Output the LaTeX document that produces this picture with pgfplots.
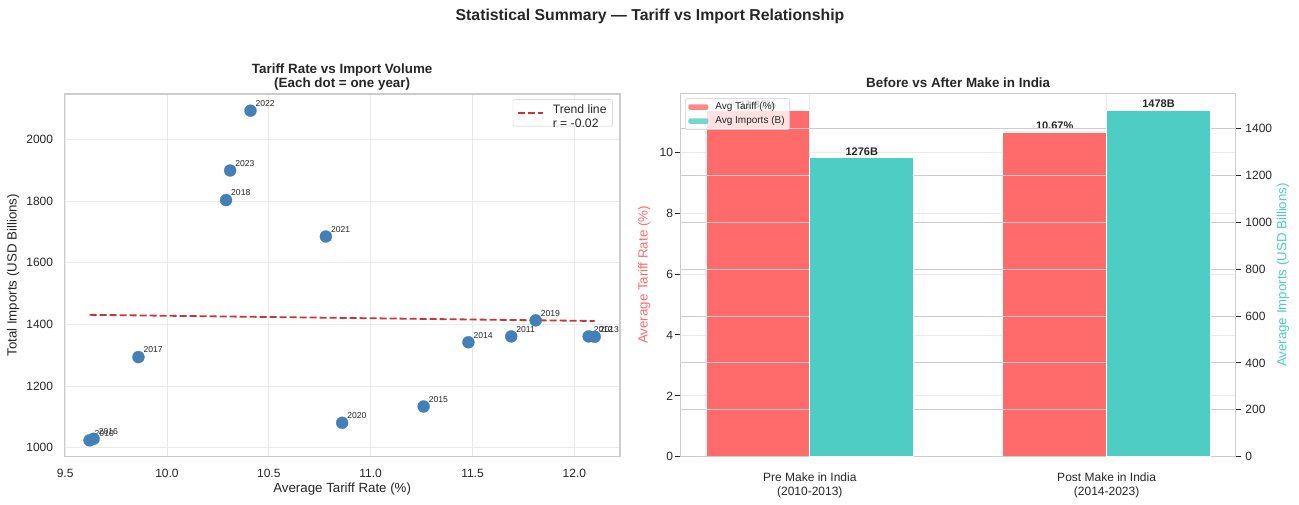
\documentclass[border=0pt]{standalone}
\usepackage{pgfplots}
\pgfplotsset{compat=1.18}
\usepackage{fontspec}
\setmainfont{Liberation Sans}
\definecolor{txt}{HTML}{262626}
\definecolor{spine}{HTML}{CCCCCC}
\definecolor{gridl}{HTML}{EBEBEB}
\definecolor{steel}{HTML}{4480B8}
\definecolor{tred}{HTML}{FF6B6B}
\definecolor{tteal}{HTML}{4ECDC4}
\definecolor{trend}{HTML}{CC3333}
\pgfplotsset{
  /pgf/number format/assume math mode=true,
  /pgf/number format/1000 sep={},
}
\pgfplotstableread{
x y year
9.62 1024 2010
11.69 1361 2011
12.07 1361 2012
12.10 1360 2013
11.48 1342 2014
11.26 1134 2015
9.64 1029 2016
9.86 1294 2017
10.29 1803 2018
11.81 1413 2019
10.86 1081 2020
10.78 1685 2021
10.41 2093 2022
10.31 1899 2023
}\scatterdata
\begin{document}
\begin{tikzpicture}[x=1pt,y=1pt]
\useasboundingbox (0,0) rectangle (1299,504);
\node[font=\fontsize{15.8}{19}\selectfont\bfseries, text=txt] at (650,488) {Statistical Summary — Tariff vs Import Relationship};
% ---------------- left: scatter ----------------
\begin{axis}[
  at={(64.3pt,47.3pt)}, anchor=south west, scale only axis,
  width=555.7pt, height=362.7pt,
  xmin=9.496, xmax=12.224, ymin=971, ymax=2147,
  xtick={9.5,10,10.5,11,11.5,12},
  xticklabels={9.5,10.0,10.5,11.0,11.5,12.0},
  ytick={1000,1200,1400,1600,1800,2000},
  major tick length=0pt,
  grid=major, major grid style={gridl, line width=0.8pt},
  axis line style={spine, line width=1.25pt},
  ticklabel style={font=\fontsize{12}{14}\selectfont, text=txt, inner sep=0pt},
  xticklabel shift=12pt, yticklabel shift=11pt,
  xlabel={Average Tariff Rate (\%)}, ylabel={Total Imports (USD Billions)},
  every axis x label/.style={at={(axis description cs:0.5,-0.088)}, anchor=center},
  every axis y label/.style={at={(axis description cs:-0.092,0.5)}, anchor=center, rotate=90},
  label style={font=\fontsize{13.3}{16}\selectfont, text=txt},
  title={Tariff Rate vs Import Volume\\(Each dot = one year)},
  title style={font=\fontsize{13.4}{14}\selectfont\bfseries, text=txt, align=center,
    at={(axis description cs:0.5,1)}, anchor=south, inner sep=0pt, yshift=-2pt},
  legend style={at={(axis description cs:0.987,0.985)}, anchor=north east,
    draw=spine, rounded corners=2pt, fill=white, fill opacity=0.8, text opacity=1,
    font=\fontsize{12.2}{14}\selectfont, text=txt, inner xsep=4pt, inner ysep=2pt,
    column sep=7pt, nodes={inner sep=2pt}},
  legend image code/.code={\draw[#1] (0pt,0pt) -- (25pt,0pt);},
]
\addplot[trend, line width=1.8pt, dash pattern=on 7pt off 3pt] coordinates {(9.62,1431) (12.10,1411)};
\addlegendentry{\begin{tabular}{@{}l@{}}Trend line\\r = -0.02\end{tabular}}
\addplot[only marks, color=steel, mark=*, mark size=6pt, mark options={fill=steel, draw=steel, line width=0.3pt},
  nodes near coords, point meta=explicit symbolic,
  every node near coord/.style={anchor=south west, inner sep=0pt, xshift=5pt, yshift=4pt,
    font=\fontsize{8.6}{10}\selectfont, text=txt}, forget plot]
  table[x=x, y=y, meta=year] {\scatterdata};
\end{axis}
% ---------------- right: bars (tariff) ----------------
\begin{axis}[
  at={(680.7pt,47.3pt)}, anchor=south west, scale only axis,
  width=555pt, height=363.4pt,
  xmin=-0.435, xmax=1.435, ymin=0, ymax=11.94,
  xtick={0,1},
  xticklabels={{Pre Make in India\\(2010-2013)},{Post Make in India\\(2014-2023)}},
  ytick={0,2,4,6,8,10},
  ytick pos=left,
  tick align=outside, major tick length=5.5pt,
  xtick style={draw=none},
  ytick style={txt, line width=1pt},
  ymajorgrids, major grid style={gridl, line width=0.8pt},
  axis line style={spine, line width=1.25pt},
  ticklabel style={font=\fontsize{12}{14}\selectfont, text=txt, inner sep=0pt},
  xticklabel style={align=center},
  xticklabel shift=10pt, yticklabel shift=2pt,
  ylabel={Average Tariff Rate (\%)},
  every axis y label/.style={at={(axis description cs:-0.066,0.5)}, anchor=center, rotate=90},
  label style={font=\fontsize{13.3}{16}\selectfont, text=tred},
  title={Before vs After Make in India},
  title style={font=\fontsize{13.4}{14}\selectfont\bfseries, text=txt,
    at={(axis description cs:0.5,1)}, anchor=south, inner sep=0pt, yshift=-0.5pt},
]
\addplot[ybar, bar width=0.35, bar shift=0pt, fill=tred, draw=white, line width=0.8pt,
  nodes near coords={\pgfmathprintnumber[fixed,precision=2,zerofill]{\pgfplotspointmeta}\%},
  point meta=y,
  every node near coord/.style={anchor=south, inner sep=2pt, font=\fontsize{11}{13}\selectfont\bfseries, text=txt}]
  coordinates {(-0.175,11.37) (0.825,10.67)};
\end{axis}
% ---------------- right: bars (imports, twin) ----------------
\begin{axis}[
  at={(680.7pt,47.3pt)}, anchor=south west, scale only axis,
  width=555pt, height=363.4pt,
  xmin=-0.435, xmax=1.435, ymin=0, ymax=1551,
  xtick={0,1}, xticklabels={},
  ytick={0,200,400,600,800,1000,1200,1400},
  ytick pos=right, yticklabel pos=right,
  tick align=outside, major tick length=5.5pt,
  xtick style={draw=none},
  ytick style={txt, line width=1pt},
  ymajorgrids, xmajorgrids,
  major y grid style={spine, line width=1pt},
  major x grid style={gridl, line width=0.8pt},
  axis line style={spine, line width=1.25pt},
  ticklabel style={font=\fontsize{12}{14}\selectfont, text=txt, inner sep=0pt},
  yticklabel shift=4pt,
  ylabel={Average Imports (USD Billions)},
  every axis y label/.style={at={(axis description cs:1.085,0.5)}, anchor=center, rotate=90},
  label style={font=\fontsize{13.3}{16}\selectfont, text=tteal},
  legend style={at={(axis description cs:0.008,0.986)}, anchor=north west,
    draw=spine, rounded corners=2pt, fill=white, fill opacity=0.8, text opacity=1,
    font=\fontsize{10}{12}\selectfont, text=txt, inner xsep=3pt, inner ysep=1.5pt,
    column sep=5pt, row sep=0pt,
    nodes={inner sep=2pt, text height=7.5pt, text depth=2.5pt}},
  legend cell align=left,
  legend image code/.code={\fill[#1, draw=none] (0pt,-2.8pt) rectangle (20pt,2.8pt);},
]
\addlegendimage{fill=tred, draw=none}
\addlegendentry{Avg Tariff (\%)}
\addplot[ybar, bar width=0.35, bar shift=0pt, fill=tteal, draw=white, line width=0.8pt,
  nodes near coords={\pgfmathprintnumber[fixed,precision=0]{\pgfplotspointmeta}B},
  point meta=y,
  every node near coord/.style={anchor=south, inner sep=2pt, font=\fontsize{11}{13}\selectfont\bfseries, text=txt}]
  coordinates {(0.175,1276) (1.175,1478)};
\addlegendentry{Avg Imports (B)}
\end{axis}
\end{tikzpicture}
\end{document}
